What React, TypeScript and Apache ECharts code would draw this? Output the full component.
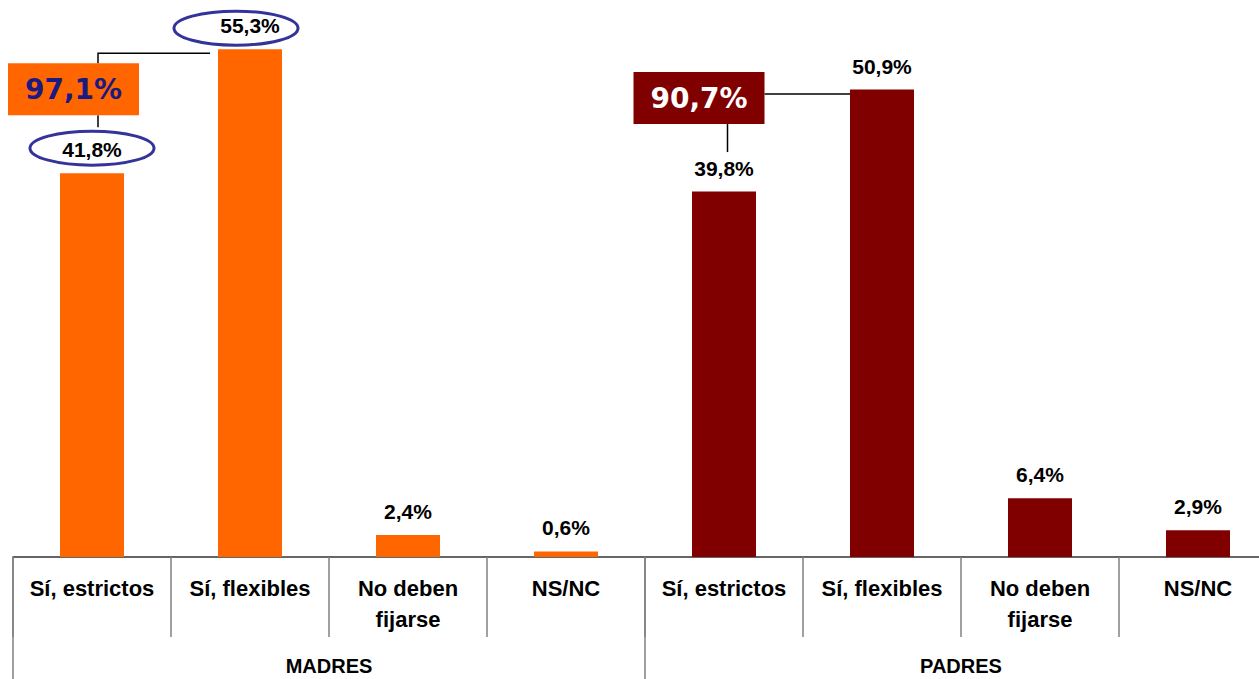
import React, { useEffect, useRef } from "react";
import * as echarts from "echarts";

const subCategories = ["Sí, estrictos", "Sí, flexibles", "No deben\nfijarse", "NS/NC"];
const groups = ["MADRES", "PADRES"];
const madresValues = [41.8, 55.3, 2.4, 0.6];
const padresValues = [39.8, 50.9, 6.4, 2.9];
const madresColor = "#FF6600";
const padresColor = "#800000";

const categories = [...subCategories, ...subCategories];
const fmt = (v: number) => v.toFixed(1).replace(".", ",") + "%";

export default function App() {
  const ref = useRef<HTMLDivElement>(null);
  useEffect(() => {
    if (!ref.current) return;
    const chart = echarts.init(ref.current, undefined, { renderer: "svg" });
    const labelFont = "'Liberation Sans', Arial, sans-serif";
    const madresData = [...madresValues, "-", "-", "-", "-"];
    const padresData = ["-", "-", "-", "-", ...padresValues];
    const label = {
      show: true,
      position: "top",
      distance: 13,
      fontSize: 21,
      fontWeight: "bold",
      fontFamily: labelFont,
      color: "#000",
      formatter: (p: any) => fmt(p.value),
    };
    chart.setOption({
      animation: false,
      grid: { left: 13, right: 23, top: 6, bottom: 122 },
      xAxis: [
        {
          type: "category",
          data: categories,
          position: "bottom",
          axisLine: { show: true, lineStyle: { color: "#333", width: 1.5 } },
          axisTick: { show: true, interval: 0, length: 80, lineStyle: { color: "#808080", width: 1.5 } },
          axisLabel: {
            interval: 0,
            margin: 16,
            fontSize: 22,
            lineHeight: 31,
            fontWeight: "bold",
            fontFamily: labelFont,
            color: "#000",
          },
        },
        {
          type: "category",
          data: groups,
          position: "bottom",
          axisLine: { show: false },
          axisTick: { show: true, interval: 0, length: 122, lineStyle: { color: "#808080", width: 1.5 } },
          axisLabel: {
            interval: 0,
            margin: 99,
            fontSize: 20,
            lineHeight: 20,
            fontWeight: "bold",
            fontFamily: labelFont,
            color: "#000",
          },
        },
      ],
      yAxis: { type: "value", min: 0, max: 60, show: false, splitLine: { show: false } },
      series: [
        {
          type: "bar",
          name: "Madres",
          stack: "g",
          barWidth: 64,
          xAxisIndex: 0,
          data: madresData,
          itemStyle: { color: madresColor },
          label,
        },
        {
          type: "bar",
          name: "Padres",
          stack: "g",
          barWidth: 64,
          xAxisIndex: 0,
          data: padresData,
          itemStyle: { color: padresColor },
          label,
        },
      ],
    });

    const px = (i: number, v: number) =>
      chart.convertToPixel({ xAxisIndex: 0, yAxisIndex: 0 }, [i, v]) as number[];
    const m0 = px(0, madresValues[0]);
    const m1 = px(1, madresValues[1]);
    const p0 = px(4, padresValues[0]);
    const p1 = px(5, padresValues[1]);
    const madresTotal = fmt(madresValues[0] + madresValues[1]);
    const padresTotal = fmt(padresValues[0] + padresValues[1]);
    const boxFont = "'DejaVu Sans', Verdana, sans-serif";
    const ellipseStyle = { fill: "none", stroke: "#333399", lineWidth: 3 };
    const lineStyle = { stroke: "#000", lineWidth: 1.5 };

    const boxW = 131, boxH = 52;
    // Madres annotation
    const mBoxX = m0[0] - 84, mBoxY = m1[1] + 14;
    const mLineX = m0[0] + 6;
    // Padres annotation
    const pBoxX = p0[0] - 90.5, pBoxY = p1[1] - 17.5;
    const pLineX = p0[0] + 3.5;

    chart.setOption({
      graphic: [
        { type: "ellipse", shape: { cx: m0[0], cy: m0[1] - 25, rx: 62, ry: 17 }, style: ellipseStyle, z: 10 },
        { type: "ellipse", shape: { cx: m1[0] - 14, cy: m1[1] - 21, rx: 62, ry: 17 }, style: ellipseStyle, z: 10 },
        {
          type: "polyline",
          shape: { points: [[mLineX, mBoxY], [mLineX, m1[1] + 4], [m1[0] - 40, m1[1] + 4]] },
          style: { ...lineStyle, fill: "none" },
          z: 10,
        },
        { type: "line", shape: { x1: mLineX, y1: mBoxY + boxH, x2: mLineX, y2: mBoxY + boxH + 12 }, style: lineStyle, z: 10 },
        { type: "rect", shape: { x: mBoxX, y: mBoxY, width: boxW, height: boxH }, style: { fill: madresColor }, z: 10 },
        {
          type: "text",
          x: mBoxX + boxW / 2,
          y: mBoxY + boxH / 2,
          style: { text: madresTotal, fill: "#1a1a80", fontSize: 28, fontWeight: "bold", fontFamily: boxFont, align: "center", verticalAlign: "middle" },
          z: 11,
        },
        {
          type: "line",
          shape: { x1: pBoxX + boxW, y1: p1[1] + 4.5, x2: p1[0] - 32, y2: p1[1] + 4.5 },
          style: lineStyle,
          z: 10,
        },
        { type: "line", shape: { x1: pLineX, y1: pBoxY + boxH, x2: pLineX, y2: pBoxY + boxH + 28 }, style: lineStyle, z: 10 },
        { type: "rect", shape: { x: pBoxX, y: pBoxY, width: boxW, height: boxH }, style: { fill: padresColor }, z: 10 },
        {
          type: "text",
          x: pBoxX + boxW / 2,
          y: pBoxY + boxH / 2,
          style: { text: padresTotal, fill: "#ffffff", fontSize: 28, fontWeight: "bold", fontFamily: boxFont, align: "center", verticalAlign: "middle" },
          z: 11,
        },
      ],
    });

    return () => chart.dispose();
  }, []);

  return (
    <div style={{ position: "absolute", left: 0, top: 0, width: 1259, height: 679, overflow: "hidden", background: "#fff" }}>
      <div ref={ref} style={{ width: 1300, height: 679 }} />
    </div>
  );
}
